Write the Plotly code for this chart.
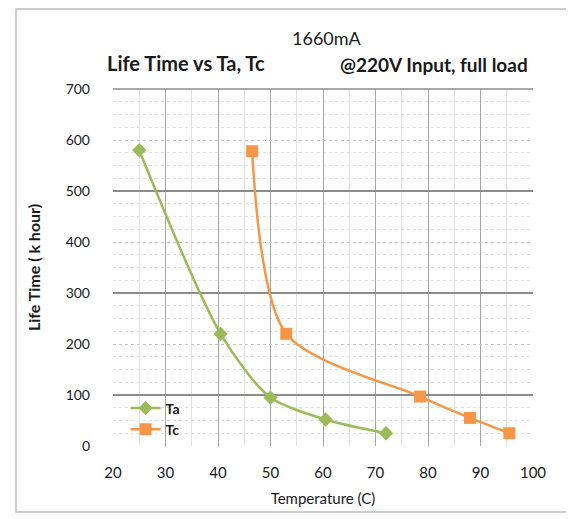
import plotly.graph_objects as go

ta_temp = [25, 40.5, 50, 60.5, 72]
ta_life = [580, 220, 95, 52, 25]
tc_temp = [46.5, 53, 78.5, 88, 95.5]
tc_life = [578, 220, 97, 55, 25]

x_ticks = [20, 30, 40, 50, 60, 70, 80, 90, 100]
y_ticks = [0, 100, 200, 300, 400, 500, 600, 700]

FONT = "Lato"
GREEN = "#9BBB59"
ORANGE = "#F79646"
TXT = "#1a1a1a"

fig = go.Figure()
fig.add_trace(go.Scatter(
    x=ta_temp, y=ta_life, name="Ta", mode="lines+markers",
    line=dict(color=GREEN, width=2.5, shape="spline", smoothing=0.8),
    marker=dict(symbol="diamond", size=11, color=GREEN),
))
fig.add_trace(go.Scatter(
    x=tc_temp, y=tc_life, name="Tc", mode="lines+markers",
    line=dict(color=ORANGE, width=2.5, shape="spline", smoothing=0.8),
    marker=dict(symbol="square", size=12, color=ORANGE),
))
# overlay axis for darker major horizontal gridlines
fig.add_trace(go.Scatter(x=[None], y=[None], yaxis="y2", showlegend=False, hoverinfo="skip"))

fig.update_layout(
    width=574, height=519,
    margin=dict(l=105, r=49, t=81, b=81),
    paper_bgcolor="white", plot_bgcolor="white",
    font=dict(family=FONT, size=14, color=TXT),
    showlegend=True,
    legend=dict(x=0.03, y=0.15, xanchor="left", yanchor="top",
                bgcolor="rgba(0,0,0,0)", font=dict(size=14, family=FONT, color=TXT, weight="bold"),
                tracegroupgap=0, itemwidth=30),
    xaxis=dict(range=[20, 100], tickvals=x_ticks, showgrid=True, gridcolor="#a6a6a6", gridwidth=1,
               minor=dict(dtick=5, showgrid=True, gridcolor="#e2e2e2", gridwidth=1),
               zeroline=False, showline=False, ticks="", ticklabelstandoff=16,
               tickfont=dict(size=15, family=FONT, color=TXT),
               title=dict(text="Temperature (C)", font=dict(size=15, family=FONT, color=TXT), standoff=13)),
    yaxis=dict(range=[0, 700], tickvals=y_ticks, showgrid=True, gridcolor="#c8c8c8", gridwidth=1, griddash="dot",
               minor=dict(dtick=25, showgrid=True, gridcolor="#e0e0e0", gridwidth=1, griddash="dot"),
               zeroline=False, showline=False, ticks="", ticklabelstandoff=22,
               tickfont=dict(size=14, family=FONT, color=TXT),
               title=dict(text="<b>Life Time ( k hour)</b>", font=dict(size=16, family=FONT, color=TXT), standoff=21)),
    yaxis2=dict(range=[0, 700], overlaying="y", tick0=100, dtick=200, showgrid=True, gridcolor="#8c8c8c",
                gridwidth=1.5, showticklabels=False, zeroline=False, ticks=""),
    shapes=[
        dict(type="rect", xref="paper", yref="paper", x0=-0.231, x1=1.081, y0=-0.185, y1=1.224,
             line=dict(color="#bdbdbd", width=1.5), fillcolor="rgba(0,0,0,0)", layer="below"),
        dict(type="line", xref="paper", yref="paper", x0=0, x1=1, y0=1, y1=1,
             line=dict(color="#8c8c8c", width=1.5)),
    ],
    annotations=[
        dict(text="1660mA", xref="paper", yref="paper", x=0.51, y=1.143, xanchor="center", yanchor="middle",
             showarrow=False, font=dict(size=18, family=FONT, color=TXT)),
        dict(text="<b>Life Time vs Ta, Tc</b>", xref="paper", yref="paper", x=-0.019, y=1.073, xanchor="left",
             yanchor="middle", showarrow=False, font=dict(size=20, family=FONT, color=TXT)),
        dict(text="<b>@220V Input, full load</b>", xref="paper", yref="paper", x=0.993, y=1.070, xanchor="right",
             yanchor="middle", showarrow=False, font=dict(size=19, family=FONT, color=TXT)),
    ],
)

fig.write_html("out.html")
